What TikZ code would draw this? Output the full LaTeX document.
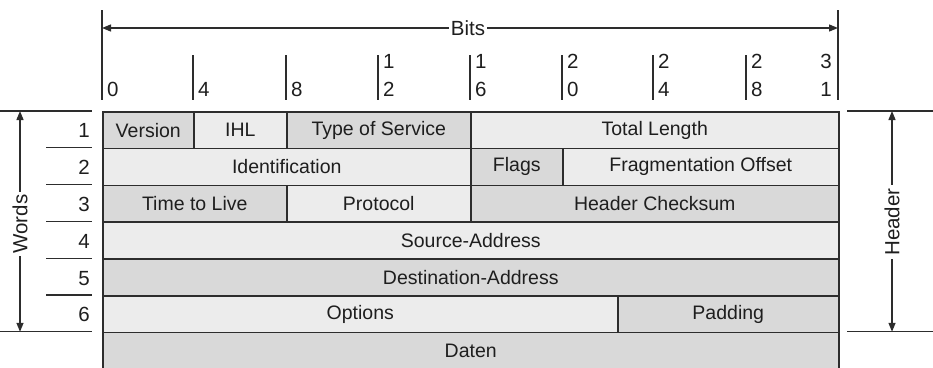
\documentclass[tikz,border=0pt]{standalone}
\usepackage{fontspec}
\setmainfont{Liberation Sans}
\usetikzlibrary{arrows.meta}
\definecolor{dk}{RGB}{217,217,217}
\definecolor{lt}{RGB}{236,236,236}
\definecolor{ln}{RGB}{45,45,45}
\definecolor{tx}{RGB}{30,30,30}
\begin{document}
\begin{tikzpicture}[x=1pt,y=-1pt,
  cell/.style={draw=ln, line width=1.5pt, inner sep=0pt, anchor=north west,
    minimum height=36.8pt, text=tx, font=\fontsize{19.5}{21}\selectfont},
  lbl/.style={inner sep=0pt, text=tx, font=\fontsize{20.5}{22}\selectfont},
  guide/.style={draw=ln, line width=1.3pt},
  dim/.style={guide, {Triangle[length=9pt,width=7pt]}-{Triangle[length=9pt,width=7pt]}},
  side/.style={fill=white, inner sep=3pt, text=tx, font=\fontsize{20.5}{22}\selectfont}]
\useasboundingbox (0,0) rectangle (933,367);
% ---- table cells
\node[cell, fill=dk, minimum width=91pt]  (version) at (102,111) {Version};
\node[cell, fill=lt, minimum width=93pt]  (ihl)     at (193,111) {IHL};
\node[cell, fill=dk, minimum width=184pt] (tos)     at (286,111) {Type of Service};
\node[cell, fill=lt, minimum width=368pt] (total)   at (470,111) {Total Length};
\node[cell, fill=lt, minimum width=368pt] (ident)   at (102,147.8) {Identification};
\node[cell, fill=dk, minimum width=92pt]  (flags)   at (470,147.8) {Flags};
\node[cell, fill=lt, minimum width=276pt] (frag)    at (562,147.8) {Fragmentation Offset};
\node[cell, fill=dk, minimum width=184pt] (ttl)     at (102,184.6) {Time to Live};
\node[cell, fill=lt, minimum width=184pt] (proto)   at (286,184.6) {Protocol};
\node[cell, fill=dk, minimum width=368pt] (chk)     at (470,184.6) {Header Checksum};
\node[cell, fill=lt, minimum width=736pt] (src)     at (102,221.4) {Source-Address};
\node[cell, fill=dk, minimum width=736pt] (dst)     at (102,258.2) {Destination-Address};
\node[cell, fill=lt, minimum width=515pt] (opt)     at (102,295.0) {Options};
\node[cell, fill=dk, minimum width=221pt] (pad)     at (617,295.0) {Padding};
\node[cell, fill=dk, minimum width=736pt] (daten)   at (102,331.8) {Daten};
% ---- bits scale
\draw[guide] (102,10) -- (102,100);
\draw[guide] (838,10) -- (838,100);
\coordinate (bl) at (102,28);
\coordinate (br) at (838,28);
\draw[dim] (bl) -- (br);
\node[side, inner sep=2pt] (bits) at (468,28) {Bits};
\foreach \x/\nm in {193/t4,286/t8,378/t12,470/t16,562/t20,653/t24,746/t28}
  \draw[guide] (\x,55) -- (\x,100) coordinate (\nm);
\node[lbl, anchor=base west] (b0) at (107,96.5) {0};
\node[lbl, anchor=base west] (b4) at (198,96.5) {4};
\node[lbl, anchor=base west] (b8) at (291,96.5) {8};
\foreach \x/\a/\b/\nm in {378/1/2/b12,470/1/6/b16,562/2/0/b20,653/2/4/b24,746/2/8/b28}{
  \node[lbl, anchor=base west] (\nm a) at (\x+5,68) {\a};
  \node[lbl, anchor=base west] (\nm b) at (\x+5,96.5) {\b};
}
\node[lbl, anchor=base east] (b31a) at (832,68) {3};
\node[lbl, anchor=base east] (b31b) at (832,96.5) {1};
% ---- words (left)
\draw[guide] (0,111) -- (92,111);
\draw[guide] (0,331.8) -- (92,331.8);
\foreach \y in {147.8,184.6,221.4,258.2,295.0}
  \draw[guide] (46,\y) -- (92,\y);
\foreach \n/\y in {1/129.4,2/166.2,3/203.0,4/239.8,5/276.6,6/313.4}
  \node[lbl, anchor=east] (w\n) at (90,\y+1.5) {\n};
\coordinate (wt) at (20,111);
\coordinate (wb) at (20,331.8);
\draw[dim] (wt) -- (wb);
\node[side, rotate=90] (words) at (20,224) {Words};
% ---- header (right)
\draw[guide] (847,111) -- (933,111);
\draw[guide] (847,331.8) -- (933,331.8);
\coordinate (ht) at (892,111);
\coordinate (hb) at (892,331.8);
\draw[dim] (ht) -- (hb);
\node[side, rotate=90] (header) at (892,222) {Header};
\end{tikzpicture}
\end{document}
